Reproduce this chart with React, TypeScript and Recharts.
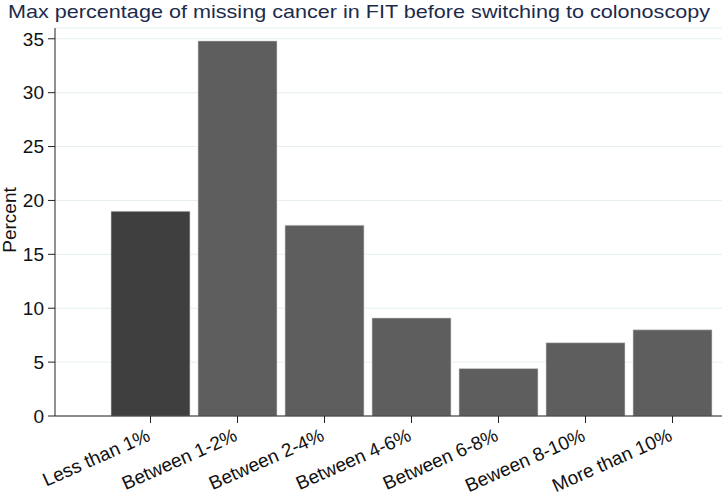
import { BarChart, Bar, Cell, XAxis, YAxis, CartesianGrid } from 'recharts';

const categories = [
  'Less than 1%',
  'Between 1-2%',
  'Between 2-4%',
  'Between 4-6%',
  'Between 6-8%',
  'Beween 8-10%',
  'More than 10%',
];
const percents = [19.0, 34.8, 17.7, 9.1, 4.4, 6.8, 8.0];
const barColors = ['#3f3f3f', '#5e5e5e', '#5e5e5e', '#5e5e5e', '#5e5e5e', '#5e5e5e', '#5e5e5e'];
const yTicks = [0, 5, 10, 15, 20, 25, 30, 35];

const chartData = categories.map((name, i) => ({ name, percent: percents[i] }));

const FONT = '"Liberation Sans", Arial, sans-serif';

// rotated category labels, anchored at their end under the tick
const AngledTick = ({ x, y, payload }: any) => (
  <g transform={`translate(${x},${y})`}>
    <text
      x={1}
      y={15}
      textAnchor="end"
      transform="rotate(-24, 1, 15)"
      fill="#111"
      fontSize={19}
      fontFamily={FONT}
    >
      {payload.value}
    </text>
  </g>
);

const PercentLabel = ({ viewBox }: any) => {
  const cy = viewBox.y + viewBox.height / 2 - 2;
  return (
    <text
      x={16}
      y={cy}
      transform={`rotate(-90, 16, ${cy})`}
      textAnchor="middle"
      fill="#111"
      fontSize={19}
      fontFamily={FONT}
    >
      Percent
    </text>
  );
};

const App = () => {
  return (
    <div style={{ position: 'absolute', left: 0, top: 0, width: 726, height: 495, background: '#fff' }}>
      <div
        style={{
          position: 'absolute',
          left: 8,
          top: 1,
          fontFamily: FONT,
          fontSize: 19,
          color: '#1c2b4c',
          whiteSpace: 'nowrap',
          transform: 'scaleX(1.137)',
          transformOrigin: 'left top',
        }}
      >
        Max percentage of missing cancer in FIT before switching to colonoscopy
      </div>
      <BarChart
        width={726}
        height={495}
        data={chartData}
        margin={{ top: 28, right: 4, bottom: 0, left: 0 }}
        barCategoryGap={4}
      >
        <CartesianGrid vertical={false} stroke="#e6efef" strokeWidth={1} />
        <XAxis
          dataKey="name"
          interval={0}
          padding={{ left: 52, right: 6 }}
          tick={<AngledTick />}
          tickSize={7}
          stroke="#222"
          height={79}
        />
        <YAxis
          width={55}
          domain={[0, 36]}
          ticks={yTicks}
          tickSize={7}
          tickMargin={4}
          stroke="#222"
          tick={{ fill: '#111', fontSize: 19, fontFamily: FONT }}
          label={<PercentLabel />}
        />
        <Bar dataKey="percent" isAnimationActive={false} stroke="#d4d8d8" strokeWidth={0.6}>
          {chartData.map((d, i) => (
            <Cell key={d.name} fill={barColors[i]} />
          ))}
        </Bar>
      </BarChart>
    </div>
  );
};

export default App;
